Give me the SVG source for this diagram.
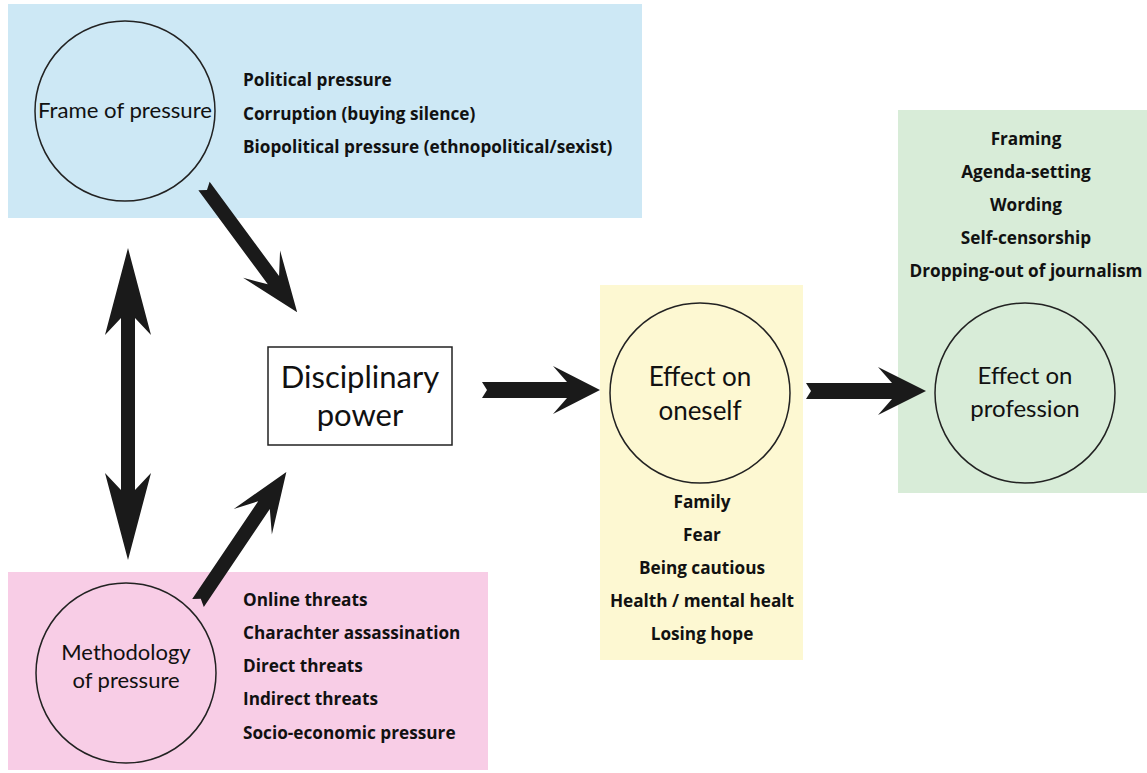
<svg xmlns="http://www.w3.org/2000/svg" width="1147" height="773" viewBox="0 0 1147 773">
<style>
.bg{stroke:none}
.circ{stroke:#222;stroke-width:1.5}
.lbl{font-family:Lato,"Open Sans","Liberation Sans",sans-serif;fill:#111}
.item{font-family:"Open Sans",Lato,"Liberation Sans",sans-serif;font-weight:700;font-size:17.2px;fill:#111}
.arrow{fill:#1a1a1a}
</style>
<rect width="1147" height="773" fill="#ffffff"/>
<g id="frame">
<rect class="bg" x="8" y="4" width="634" height="214" fill="#cde8f5"/>
<circle class="circ" cx="125" cy="111" r="90" fill="none"/>
<text class="lbl" x="125" y="118" font-size="22" text-anchor="middle" textLength="174" lengthAdjust="spacingAndGlyphs">Frame of pressure</text>
<text class="item" x="243" y="86">Political pressure</text>
<text class="item" x="243" y="120">Corruption (buying silence)</text>
<text class="item" x="243" y="153">Biopolitical pressure (ethnopolitical/sexist)</text>
</g>
<g id="methodology">
<rect class="bg" x="8" y="572" width="480" height="198" fill="#f8cde6"/>
<circle class="circ" cx="126" cy="673" r="90" fill="none"/>
<text class="lbl" x="126" y="660" font-size="22" text-anchor="middle">Methodology</text>
<text class="lbl" x="126" y="688" font-size="22" text-anchor="middle">of pressure</text>
<text class="item" x="243" y="606">Online threats</text>
<text class="item" x="243" y="639">Charachter assassination</text>
<text class="item" x="243" y="672">Direct threats</text>
<text class="item" x="243" y="705">Indirect threats</text>
<text class="item" x="243" y="739">Socio-economic pressure</text>
</g>
<g id="disciplinary">
<rect x="268" y="347" width="184" height="98" fill="#ffffff" stroke="#222" stroke-width="1.5"/>
<text class="lbl" x="360" y="388" font-size="31" text-anchor="middle">Disciplinary</text>
<text class="lbl" x="360" y="426" font-size="31" text-anchor="middle">power</text>
</g>
<g id="oneself">
<rect class="bg" x="600" y="285" width="203" height="375" fill="#fdf8d2"/>
<circle class="circ" cx="700" cy="393" r="90" fill="none"/>
<text class="lbl" x="700" y="386" font-size="26" text-anchor="middle">Effect on</text>
<text class="lbl" x="700" y="420" font-size="26" text-anchor="middle">oneself</text>
<text class="item" x="702" y="508" text-anchor="middle">Family</text>
<text class="item" x="702" y="541" text-anchor="middle">Fear</text>
<text class="item" x="702" y="574" text-anchor="middle">Being cautious</text>
<text class="item" x="702" y="607" text-anchor="middle">Health / mental healt</text>
<text class="item" x="702" y="640" text-anchor="middle">Losing hope</text>
</g>
<g id="profession">
<rect class="bg" x="898" y="110" width="249" height="383" fill="#d8ecd8"/>
<circle class="circ" cx="1025" cy="393" r="90" fill="none"/>
<text class="lbl" x="1025" y="384" font-size="24" text-anchor="middle">Effect on</text>
<text class="lbl" x="1025" y="417" font-size="24" text-anchor="middle">profession</text>
<text class="item" x="1026" y="145" text-anchor="middle">Framing</text>
<text class="item" x="1026" y="178" text-anchor="middle">Agenda-setting</text>
<text class="item" x="1026" y="211" text-anchor="middle">Wording</text>
<text class="item" x="1026" y="244" text-anchor="middle">Self-censorship</text>
<text class="item" x="1026" y="277" text-anchor="middle">Dropping-out of journalism</text>
</g>
<g id="connectors">
<polygon class="arrow" transform="translate(204,186) rotate(53.6)" points="0,-7 5,0 0,7 117,7 97,23 157,0 97,-23 117,-7"/>
<polygon class="arrow" transform="translate(198,603) rotate(-56)" points="0,-7 5,0 0,7 118,7 98,23 158,0 98,-23 118,-7"/>
<polygon class="arrow" transform="translate(128,248) rotate(90)" points="0,0 87,-23 70,-7 242,-7 225,-23 312,0 225,23 242,7 70,7 87,23"/>
<polygon class="arrow" transform="translate(482,390)" points="0,-8 5,0 0,8 85,8 71,24 118,0 71,-24 85,-8"/>
<polygon class="arrow" transform="translate(806,391)" points="0,-8 5,0 0,8 86,8 72,24 120,0 72,-24 86,-8"/>
</g>
</svg>
